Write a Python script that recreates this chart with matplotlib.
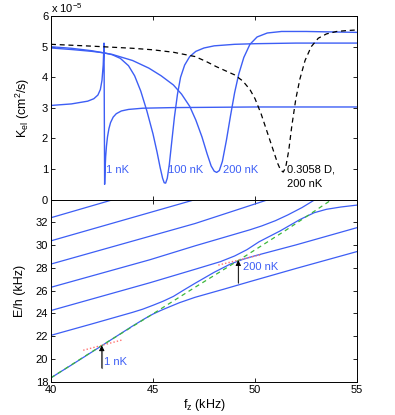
import matplotlib
matplotlib.use("Agg")
import matplotlib.pyplot as plt

plt.rcParams['font.family'] = ['Liberation Sans', 'DejaVu Sans']
plt.rcParams['mathtext.fontset'] = 'custom'
plt.rcParams['mathtext.rm'] = 'Liberation Sans'
plt.rcParams['mathtext.it'] = 'Liberation Sans'

BLUE = '#3d5ef5'

# ---------------- top panel data (K_el in units of 1e-5 cm^2/s) ----------------
f_1nK = [40, 41, 41.8, 42.1, 42.3, 42.42, 42.5, 42.56, 42.6, 42.63, 42.65, 42.68, 42.72,
         42.77, 42.84, 42.92, 43.05, 43.2, 43.45, 43.8, 44.5, 46, 50, 55]
k_1nK = [3.08, 3.13, 3.22, 3.3, 3.42, 3.6, 3.9, 4.4, 5.12, 0.5, 0.95, 1.4, 1.75,
         2.05, 2.32, 2.52, 2.7, 2.81, 2.9, 2.95, 2.99, 3.01, 3.03, 3.03]

f_100nK = [40, 41, 42, 42.6, 43.0, 43.4, 43.8, 44.1, 44.4, 44.7, 45.0, 45.2, 45.35, 45.47,
           45.55, 45.62, 45.7, 45.8, 45.92, 46.05, 46.2, 46.35, 46.55, 46.8, 47.1, 47.5,
           48, 49, 50, 52, 55]
k_100nK = [4.96, 4.91, 4.85, 4.8, 4.74, 4.62, 4.38, 4.05, 3.55, 2.9, 2.15, 1.55, 1.05, 0.7,
           0.55, 0.54, 0.7, 1.15, 1.9, 2.7, 3.45, 4.0, 4.4, 4.68, 4.85, 4.96,
           5.03, 5.08, 5.1, 5.12, 5.12]

f_200nK = [40, 41, 42, 43, 44, 44.8, 45.4, 46.0, 46.4, 46.8, 47.1, 47.4, 47.65, 47.85,
           48.0, 48.12, 48.25, 48.4, 48.6, 48.8, 49.0, 49.2, 49.45, 49.75, 50.1, 50.6,
           51.3, 52.5, 55]
k_200nK = [5.0, 4.95, 4.87, 4.75, 4.55, 4.3, 4.05, 3.75, 3.45, 3.05, 2.6, 2.05, 1.5, 1.1,
           0.93, 0.89, 0.95, 1.25, 1.95, 2.75, 3.5, 4.1, 4.65, 5.08, 5.32, 5.45,
           5.5, 5.5, 5.47]

f_dash = [40, 42, 44, 45, 46, 47.06, 47.6, 48.1, 48.6, 49.0, 49.4, 49.75, 50.0, 50.3,
          50.6, 50.9, 51.1, 51.25, 51.38, 51.5, 51.65, 51.8, 52.0, 52.2, 52.45, 52.75,
          53.1, 53.5, 54.0, 54.5, 55]
k_dash = [5.08, 5.02, 4.95, 4.9, 4.82, 4.68, 4.52, 4.35, 4.2, 4.08, 3.88, 3.6, 3.3, 2.8,
          2.2, 1.6, 1.2, 0.97, 0.9, 1.05, 1.6, 2.4, 3.3, 3.95, 4.55, 5.0,
          5.28, 5.42, 5.5, 5.53, 5.55]

# ---------------- bottom panel data (E/h in kHz) ----------------
f_b1 = [40, 43.05]
e_b1 = [32.41, 34.0]
f_b2 = [40, 47.06]
e_b2 = [30.38, 34.0]
f_b3 = [40, 47.06, 50.65]
e_b3 = [28.34, 31.9, 34.0]
f_b4 = [40, 44.85, 47.06, 49.75, 50.33, 51.0, 51.6, 52.3, 52.94]
e_b4 = [26.3, 28.72, 29.94, 31.35, 31.69, 32.15, 32.65, 33.3, 34.0]
f_b5 = [40, 44.85, 47.06, 48.3, 49.0, 49.6, 50.2, 51.23, 52.2, 52.9, 53.5, 54.2, 55]
e_b5 = [24.26, 26.7, 27.88, 28.55, 29.05, 29.6, 30.3, 31.25, 32.25, 32.85, 33.15, 33.35, 33.52]
f_b6 = [40, 42, 44, 44.5, 45.0, 45.5, 46.0, 46.5, 47.06, 48.0, 48.8, 49.4, 50.0, 50.8,
        52.0, 53.5, 55]
e_b6 = [22.08, 23.08, 24.1, 24.38, 24.72, 25.08, 25.5, 26.05, 26.65, 27.62, 28.35, 28.75,
        29.07, 29.45, 30.02, 30.78, 31.54]
f_b7 = [40, 41, 42.49, 44.0, 44.6, 45.0, 45.4, 45.8, 46.3, 47.06, 48.5, 49.75, 52.0, 55]
e_b7 = [18.35, 19.47, 21.17, 22.9, 23.55, 23.95, 24.28, 24.58, 24.95, 25.42, 26.15, 26.8,
        27.95, 29.44]

f_green = [40, 42.5, 45, 47.06, 49.18, 51.5, 53.76]
e_green = [18.35, 21.2, 23.97, 26.3, 28.65, 31.3, 34.0]

f_red1 = [41.58, 43.54]
e_red1 = [20.77, 21.7]
f_red2 = [48.2, 50.25]
e_red2 = [28.25, 29.15]

fig = plt.figure(figsize=(3.95, 4.15), dpi=100)
ax1 = fig.add_axes([0.129, 0.519, 0.775, 0.442])
ax2 = fig.add_axes([0.129, 0.080, 0.775, 0.439])

for ax in (ax1, ax2):
    ax.tick_params(direction='in', length=3, width=0.6, top=True, right=True,
                   labelsize=8, pad=2)
    for s in ax.spines.values():
        s.set_linewidth(0.7)

# top panel
ax1.plot(f_1nK, k_1nK, color=BLUE, lw=1.0)
ax1.plot(f_100nK, k_100nK, color=BLUE, lw=1.0)
ax1.plot(f_200nK, k_200nK, color=BLUE, lw=1.0)
ax1.plot(f_dash, k_dash, color='black', lw=0.9, dashes=(4, 3))
ax1.set_xlim(40, 55)
ax1.set_ylim(0, 6)
ax1.set_xticks([40, 45, 50, 55])
ax1.set_xticklabels([])
ax1.set_yticks([0, 1, 2, 3, 4, 5, 6])
ax1.set_ylabel(r'K$_{\rm el}$ (cm$^2$/s)', fontsize=9, labelpad=7)
ax1.text(0.0, 1.005, r'x 10$^{-5}$', transform=ax1.transAxes, fontsize=8,
         ha='left', va='bottom')
ax1.text(42.72, 0.97, '1 nK', color=BLUE, fontsize=8, va='center', ha='left')
ax1.text(45.72, 0.97, '100 nK', color=BLUE, fontsize=8, va='center', ha='left')
ax1.text(48.42, 0.97, '200 nK', color=BLUE, fontsize=8, va='center', ha='left')
ax1.text(51.55, 0.97, '0.3058 D,', color='black', fontsize=8, va='center', ha='left')
ax1.text(51.55, 0.52, '200 nK', color='black', fontsize=8, va='center', ha='left')

# bottom panel
for fx, ey in [(f_b1, e_b1), (f_b2, e_b2), (f_b3, e_b3), (f_b4, e_b4),
               (f_b5, e_b5), (f_b6, e_b6), (f_b7, e_b7)]:
    ax2.plot(fx, ey, color=BLUE, lw=0.9)
ax2.plot(f_green, e_green, color='#3cb83c', lw=0.9, dashes=(3.5, 3))
ax2.plot(f_red1, e_red1, color='#ff7070', lw=1.0, ls=(0, (1, 1.5)))
ax2.plot(f_red2, e_red2, color='#ff7070', lw=1.0, ls=(0, (1, 1.5)))

for (fx, e_tip, e_base) in [(42.49, 21.2, 19.2), (49.18, 28.68, 26.7)]:
    ax2.annotate('', xy=(fx, e_tip), xytext=(fx, e_base),
                 arrowprops=dict(arrowstyle='-|>', color='black', lw=0.6,
                                 mutation_scale=8, shrinkA=0, shrinkB=0))
    ax2.plot([fx, fx], [e_base, e_tip - 0.5], color='#888888', lw=0.8)

ax2.text(42.62, 19.75, '1 nK', color=BLUE, fontsize=8, va='center', ha='left')
ax2.text(49.4, 28.05, '200 nK', color=BLUE, fontsize=8, va='center', ha='left')

ax2.set_xlim(40, 55)
ax2.set_ylim(18, 34)
ax2.set_xticks([40, 45, 50, 55])
ax2.set_yticks([18, 20, 22, 24, 26, 28, 30, 32, 34])
ax2.set_yticklabels(['18', '20', '22', '24', '26', '28', '30', '32', ''])
ax2.set_xlabel(r'f$_{\rm z}$ (kHz)', fontsize=9, labelpad=2)
ax2.set_ylabel('E/h (kHz)', fontsize=9, labelpad=7)

fig.savefig('out.png', dpi=100)
